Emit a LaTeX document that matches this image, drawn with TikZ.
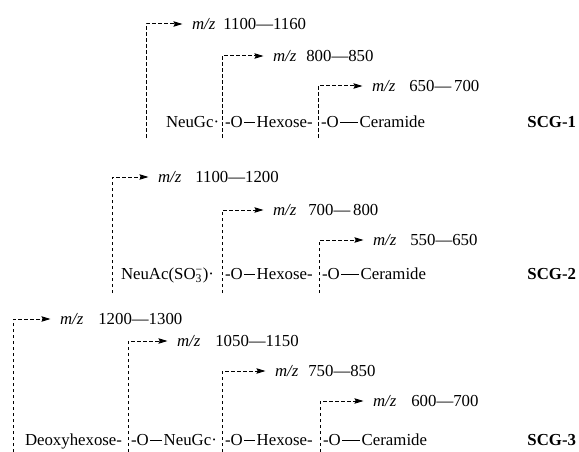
\documentclass[tikz,border=0pt]{standalone}
\usepackage{fontspec}
\setmainfont{Liberation Serif}
\usetikzlibrary{arrows.meta}
% glycosidic bond bar between O and the next residue
\newcommand\bond[1]{\kern1.5pt\rule[4.6pt]{#1}{1.3pt}\kern1.5pt}
\newcommand\mz{\textit{m/z}}
\begin{document}
\begin{tikzpicture}[x=1pt,y=-1pt,
  every node/.style={inner sep=0pt,outer sep=0pt,
    font=\fontsize{16.8}{20}\selectfont,text height=11pt,text depth=0pt},
  chain/.style={anchor=west},
  ion/.style={anchor=west},
  tag/.style={anchor=east,font=\fontsize{16.8}{20}\selectfont\bfseries},
  frag/.style={line width=1pt,dash pattern=on 3.5pt off 2.5pt,
    -{Stealth[length=9pt,width=5.4pt,inset=1.2pt]},shorten >=9.5pt}]
\useasboundingbox (0,0) rectangle (579,452);

% ---------------- SCG-1 ----------------
\coordinate (a1) at (146,138);
\coordinate (a2) at (222,138);
\coordinate (a3) at (318,138);
\node[ion] (i11) at (192,24) {\mz\hspace{8pt}1100—1160};
\node[ion] (i12) at (273,56) {\mz\hspace{10pt}800—850};
\node[ion] (i13) at (372,86) {\mz\hspace{14pt}650—\,700};
\node[chain] (s11) at (166,122) {NeuGc\textperiodcentered};
\node[chain] (s12) at (225,122) {-O\bond{11pt}Hexose-};
\node[chain] (s13) at (321,122) {-O\bond{18pt}Ceramide};
\node[tag] (t1) at (576,122) {SCG-1};
\draw[frag] (a1) |- (i11.west);
\draw[frag] (a2) |- (i12.west);
\draw[frag] (a3) |- (i13.west);

% ---------------- SCG-2 ----------------
\coordinate (b1) at (112,293);
\coordinate (b2) at (222,293);
\coordinate (b3) at (319,293);
\node[ion] (i21) at (158,177) {\mz\hspace{14pt}1100—1200};
\node[ion] (i22) at (273,210) {\mz\hspace{12pt}700—\,800};
\node[ion] (i23) at (373,240) {\mz\hspace{14pt}550—650};
\node[chain] (s21) at (121,274) {NeuAc(SO\rlap{\textsubscript{3}}\textsuperscript{−})\textperiodcentered};
\node[chain] (s22) at (225,274) {-O\bond{11pt}Hexose-};
\node[chain] (s23) at (322,274) {-O\bond{18pt}Ceramide};
\node[tag] (t2) at (576,274) {SCG-2};
\draw[frag] (b1) |- (i21.west);
\draw[frag] (b2) |- (i22.west);
\draw[frag] (b3) |- (i23.west);

% ---------------- SCG-3 ----------------
\coordinate (c1) at (13,452);
\coordinate (c2) at (128,452);
\coordinate (c3) at (222,452);
\coordinate (c4) at (320,452);
\node[ion] (i31) at (60,319) {\mz\hspace{15pt}1200—1300};
\node[ion] (i32) at (177,341) {\mz\hspace{15pt}1050—1150};
\node[ion] (i33) at (275,371) {\mz\hspace{10pt}750—850};
\node[ion] (i34) at (373,401) {\mz\hspace{15pt}600—700};
\node[chain] (s31) at (25,440) {Deoxyhexose-};
\node[chain] (s32) at (131,440) {-O\bond{12pt}NeuGc\textperiodcentered};
\node[chain] (s33) at (225,440) {-O\bond{11pt}Hexose-};
\node[chain] (s34) at (323,440) {-O\bond{18pt}Ceramide};
\node[tag] (t3) at (576,440) {SCG-3};
\draw[frag] (c1) |- (i31.west);
\draw[frag] (c2) |- (i32.west);
\draw[frag] (c3) |- (i33.west);
\draw[frag] (c4) |- (i34.west);
\end{tikzpicture}
\end{document}
